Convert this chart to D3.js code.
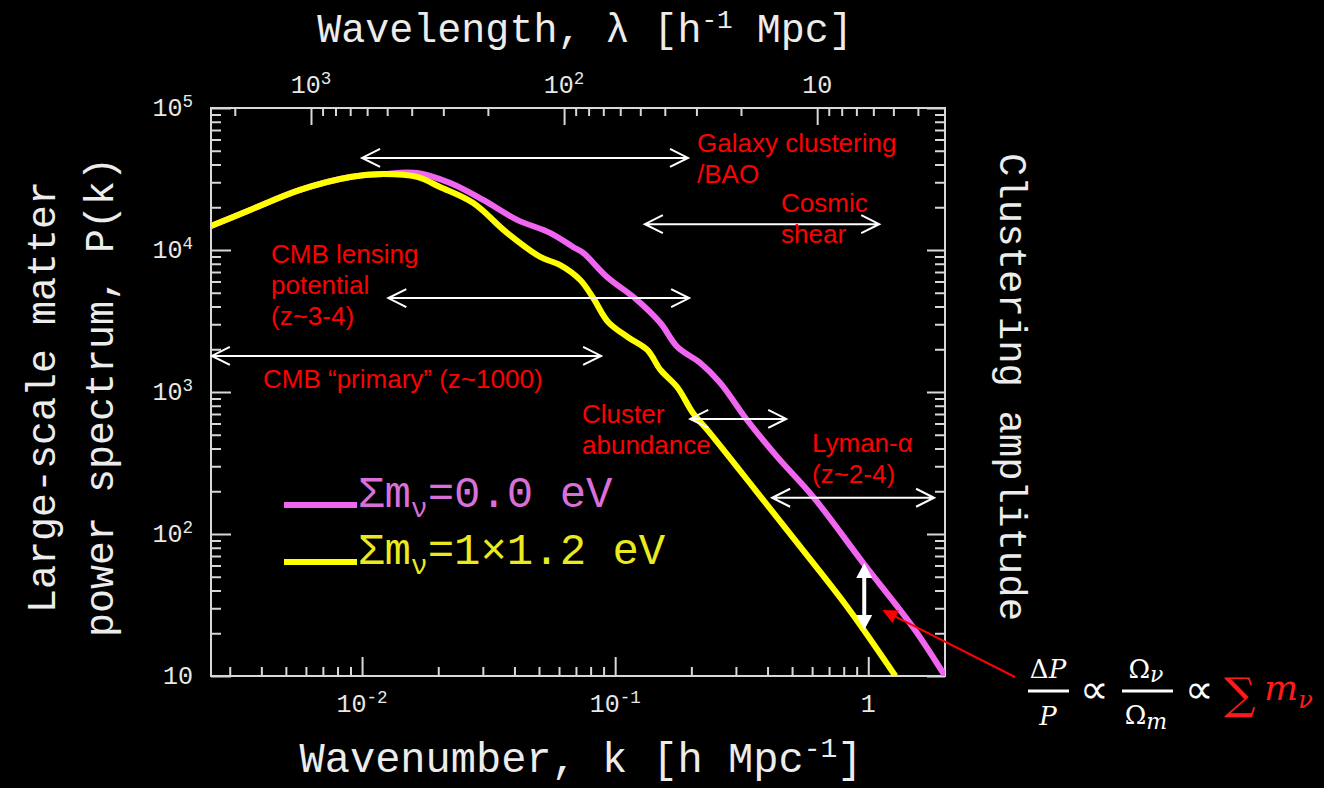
<!DOCTYPE html>
<html>
<head>
<meta charset="utf-8">
<script src="https://cdn.jsdelivr.net/npm/d3@7"></script>
<style>
body { margin: 0; background: #000; }
svg { display: block; }
</style>
</head>
<body>
<svg id="chart" width="1324" height="788"></svg>
<script>
// plot box
var boxLeft = 211, boxRight = 945, boxTop = 108, boxBottom = 676;

// P(k) for sum m_nu = 0.0 eV (magenta)
var kZero = [0.00253, 0.00361, 0.00569, 0.00898, 0.0121, 0.0165, 0.0223, 0.0301, 0.0410, 0.0553, 0.0682, 0.0748, 0.0929, 0.122, 0.151, 0.176, 0.217, 0.260, 0.332, 0.437, 0.607, 0.955, 1.51, 2.01];
var pZero = [14760, 19140, 26500, 32660, 34270, 34800, 29600, 22500, 16300, 13200, 10500, 9530, 6460, 4450, 3060, 2080, 1600, 1160, 635, 349, 182, 62.5, 21.8, 10.0];

// P(k) for sum m_nu = 1x1.2 eV (yellow)
var kMassive = [0.00253, 0.00361, 0.00569, 0.00898, 0.0121, 0.0165, 0.0203, 0.0275, 0.0374, 0.0506, 0.0607, 0.0728, 0.0819, 0.0938, 0.112, 0.134, 0.151, 0.176, 0.203, 0.237, 0.303, 0.374, 0.524, 0.826, 1.28];
var pMassive = [14760, 19140, 26500, 32660, 34270, 32700, 27800, 21400, 13200, 8930, 7830, 6150, 4590, 3110, 2440, 1980, 1430, 1080, 711, 514, 297, 185, 86.5, 30.6, 10.0];

// probe ranges (k from, k to, level in P)
var probeNames = ["Galaxy clustering", "Cosmic shear", "CMB lensing", "CMB primary", "Cluster abundance", "Lyman-alpha"];
var probeKMin = [0.0100, 0.131, 0.0127, 0.00255, 0.198, 0.417];
var probeKMax = [0.194, 1.105, 0.196, 0.0880, 0.474, 1.82];
var probeP = [44500, 15200, 4590, 1795, 646, 180];

// tick labels
var xTickVals = [0.01, 0.1, 1];
var xTickLabels = [["10", "-2"], ["10", "-1"], ["1", ""]];
var lamTickVals = [1000, 100, 10];
var lamTickLabels = [["10", "3"], ["10", "2"], ["10", ""]];
var yTickVals = [1e5, 1e4, 1e3, 1e2, 10];
var yTickLabels = [["10", "5"], ["10", "4"], ["10", "3"], ["10", "2"], ["10", ""]];

var legendLabels = [["\u03A3m", "\u03BD", "=0.0 eV"], ["\u03A3m", "\u03BD", "=1\u00D71.2 eV"]];
var legendColors = ["#f066f0", "#ffff00"];
var legendTextColors = ["#d96fd9", "#eaea1e"];

var mono = "'Liberation Mono', 'Courier New', monospace";
var sans = "'Liberation Sans', Arial, sans-serif";
var serif = "'DejaVu Serif', 'Liberation Serif', serif";

var svg = d3.select('#chart');
svg.append("rect").attr("width", 1324).attr("height", 788).attr("fill", "#000");

var x = d3.scaleLog().domain([kZero[0], kZero[kZero.length - 1]]).range([boxLeft, boxRight]);
var y = d3.scaleLog().domain([10, 1e5]).range([boxBottom, boxTop]);
var lam = d3.scaleLog().domain([2 * Math.PI / x.domain()[0], 2 * Math.PI / x.domain()[1]]).range([boxLeft, boxRight]);

function isDecade(v) { var l = Math.log10(v); return Math.abs(l - Math.round(l)) < 1e-6; }

function drawTicks(axis, scale, tr, majLen, minLen) {
  var all = scale.ticks(50);
  var major = all.filter(isDecade);
  var minor = all.filter(function(v) { return !isDecade(v); });
  [[major, majLen], [minor, minLen]].forEach(function(p) {
    svg.append("g")
      .attr("transform", tr)
      .attr("color", "#d8d8d8")
      .call(axis(scale).tickValues(p[0]).tickSize(-p[1]).tickFormat(""))
      .call(function(g) { g.select(".domain").remove(); g.selectAll("line").attr("stroke-width", 2); });
  });
}

drawTicks(d3.axisBottom, x, "translate(0," + boxBottom + ")", 19, 9);
drawTicks(d3.axisTop, lam, "translate(0," + boxTop + ")", 17, 8);
drawTicks(d3.axisLeft, y, "translate(" + boxLeft + ",0)", 20, 10);
drawTicks(d3.axisRight, y, "translate(" + boxRight + ",0)", 18, 10);

svg.append("rect")
  .attr("x", boxLeft).attr("y", boxTop)
  .attr("width", boxRight - boxLeft).attr("height", boxBottom - boxTop)
  .attr("fill", "none").attr("stroke", "#d8d8d8").attr("stroke-width", 2);

function supLabel(px, py, lab, anchor, size) {
  var t = svg.append("text")
    .attr("x", px).attr("y", py)
    .attr("text-anchor", anchor)
    .attr("fill", "#e8e8e8")
    .attr("font-family", mono)
    .attr("font-size", size)
    .text(lab[0]);
  if (lab[1]) {
    t.append("tspan").attr("dy", -size * 0.38).attr("font-size", size * 0.7).text(lab[1]);
  }
}

xTickVals.forEach(function(v, i) { supLabel(x(v), 712, xTickLabels[i], "middle", 25); });
lamTickVals.forEach(function(v, i) { supLabel(lam(v), 93, lamTickLabels[i], "middle", 25); });
yTickVals.forEach(function(v, i) { supLabel(193, y(v) + 8, yTickLabels[i], "end", 25); });

// axis titles
var tt = svg.append("text").attr("x", 585).attr("y", 42).attr("text-anchor", "middle")
  .attr("fill", "#ececec").attr("font-family", mono).attr("font-size", 40)
  .text("Wavelength, \u03BB [h");
tt.append("tspan").attr("dy", -14).attr("font-size", 26).text("-1");
tt.append("tspan").attr("dy", 14).text(" Mpc]");

var bt = svg.append("text").attr("x", 581).attr("y", 772).attr("text-anchor", "middle")
  .attr("fill", "#ececec").attr("font-family", mono).attr("font-size", 42)
  .text("Wavenumber, k [h Mpc");
bt.append("tspan").attr("dy", -15).attr("font-size", 28).text("-1");
bt.append("tspan").attr("dy", 15).text("]");

svg.append("text").attr("transform", "translate(55,397) rotate(-90)").attr("text-anchor", "middle")
  .attr("fill", "#ececec").attr("font-family", mono).attr("font-size", 40)
  .text("Large-scale matter");
svg.append("text").attr("transform", "translate(113,397) rotate(-90)").attr("text-anchor", "middle")
  .attr("fill", "#ececec").attr("font-family", mono).attr("font-size", 40)
  .text("power spectrum, P(k)");
svg.append("text").attr("transform", "translate(1000,387) rotate(90)").attr("text-anchor", "middle")
  .attr("fill", "#ececec").attr("font-family", mono).attr("font-size", 39)
  .text("Clustering amplitude");

// curves
svg.append("clipPath").attr("id", "plotclip").append("rect")
  .attr("x", boxLeft).attr("y", boxTop).attr("width", boxRight - boxLeft).attr("height", boxBottom - boxTop);

var line = d3.line().x(function(d) { return x(d[0]); }).y(function(d) { return y(d[1]); }).curve(d3.curveCatmullRom.alpha(0.5));

var plot = svg.append("g").attr("clip-path", "url(#plotclip)");
plot.append("path").datum(d3.zip(kZero, pZero))
  .attr("d", line).attr("fill", "none").attr("stroke", legendColors[0]).attr("stroke-width", 6);
plot.append("path").datum(d3.zip(kMassive, pMassive))
  .attr("d", line).attr("fill", "none").attr("stroke", legendColors[1]).attr("stroke-width", 6);

// legend
legendLabels.forEach(function(lab, i) {
  var ly = 505 + i * 57;
  svg.append("line").attr("x1", 284).attr("x2", 357).attr("y1", ly).attr("y2", ly)
    .attr("stroke", legendColors[i]).attr("stroke-width", 6);
  var t = svg.append("text").attr("x", 358).attr("y", ly + 2)
    .attr("fill", legendTextColors[i]).attr("font-family", mono).attr("font-size", 44)
    .text(lab[0]);
  t.append("tspan").attr("dy", 10).attr("font-size", 28).text(lab[1]);
  t.append("tspan").attr("dy", -10).text(lab[2]);
});

// probe arrows
function hArrow(x1, x2, yy) {
  var hl = 18, hw = 9;
  svg.append("path")
    .attr("d", "M" + x1 + "," + yy + "L" + x2 + "," + yy +
      "M" + (x1 + hl) + "," + (yy - hw) + "L" + x1 + "," + yy + "L" + (x1 + hl) + "," + (yy + hw) +
      "M" + (x2 - hl) + "," + (yy - hw) + "L" + x2 + "," + yy + "L" + (x2 - hl) + "," + (yy + hw))
    .attr("fill", "none").attr("stroke", "#fff").attr("stroke-width", 2);
}
probeNames.forEach(function(n, i) { hArrow(x(probeKMin[i]), x(probeKMax[i]), y(probeP[i])); });

// probe labels
var probeText = [
  { lines: ["Galaxy clustering", "/BAO"], px: 697, py: 152 },
  { lines: ["Cosmic", "shear"], px: 781, py: 212 },
  { lines: ["CMB lensing", "potential", "(z~3-4)"], px: 271, py: 263 },
  { lines: ["CMB \u201Cprimary\u201D (z~1000)"], px: 263, py: 388 },
  { lines: ["Cluster", "abundance"], px: 582, py: 423 },
  { lines: ["Lyman-\u03B1", "(z~2-4)"], px: 812, py: 452 }
];
probeText.forEach(function(p) {
  p.lines.forEach(function(s, j) {
    svg.append("text").attr("x", p.px).attr("y", p.py + j * 31)
      .attr("fill", "#ff0000").attr("font-family", sans).attr("font-size", 26)
      .text(s);
  });
});

// vertical white double arrow between the curves near k = 1
var ax = x(0.964), ay1 = y(62.5), ay2 = y(21.1);
svg.append("line").attr("x1", ax).attr("x2", ax).attr("y1", ay1 + 10).attr("y2", ay2 - 10)
  .attr("stroke", "#fff").attr("stroke-width", 4);
svg.append("path").attr("d", "M" + ax + "," + ay1 + "l-8,15h16z").attr("fill", "#fff");
svg.append("path").attr("d", "M" + ax + "," + ay2 + "l-8,-15h16z").attr("fill", "#fff");

// red pointer from the formula
var tipX = x(1.136), tipY = y(29.2);
var fromX = 1015, fromY = 677;
var ang = Math.atan2(tipY - fromY, tipX - fromX);
svg.append("line").attr("x1", fromX).attr("y1", fromY).attr("x2", tipX - 12 * Math.cos(ang)).attr("y2", tipY - 12 * Math.sin(ang))
  .attr("stroke", "#ff0000").attr("stroke-width", 2);
svg.append("path")
  .attr("d", "M0,0L-15,-7L-15,7Z")
  .attr("transform", "translate(" + tipX + "," + tipY + ") rotate(" + (ang * 180 / Math.PI) + ")")
  .attr("fill", "#ff0000");

// formula
var f = svg.append("g").attr("font-family", serif).attr("fill", "#fff");
function ft(px, py, s, size, italic, anchor, color) {
  return f.append("text").attr("x", px).attr("y", py).attr("font-size", size)
    .attr("font-style", italic ? "italic" : "normal")
    .attr("text-anchor", anchor || "start")
    .attr("fill", color || "#fff").text(s);
}
var n1 = ft(1048, 678, "\u0394", 26, false, "middle");
n1.append("tspan").attr("font-style", "italic").text("P");
ft(1048, 725, "P", 26, true, "middle");
f.append("rect").attr("x", 1028).attr("y", 689.5).attr("width", 41).attr("height", 3);
ft(1094, 703, "\u221D", 40, false, "middle").attr("font-family", "'DejaVu Sans', sans-serif").attr("font-weight", 300);
var n2 = ft(1146, 678, "\u03A9", 26, false, "middle");
n2.append("tspan").attr("font-style", "italic").attr("font-size", 22).attr("dy", 4).text("\u03BD");
var d2 = ft(1146, 724, "\u03A9", 26, false, "middle");
d2.append("tspan").attr("font-style", "italic").attr("font-size", 22).attr("dy", 5).text("m");
f.append("rect").attr("x", 1122).attr("y", 689.5).attr("width", 51).attr("height", 3);
ft(1199, 703, "\u221D", 40, false, "middle").attr("font-family", "'DejaVu Sans', sans-serif").attr("font-weight", 300);
ft(1224, 709, "\u2211", 44, false, "start", "#ff1a1a");
var mm = ft(1264, 700, "m", 36, true, "start", "#ff1a1a");
mm.append("tspan").attr("font-size", 24).attr("dy", 8).text("\u03BD");
</script>
</body>
</html>
